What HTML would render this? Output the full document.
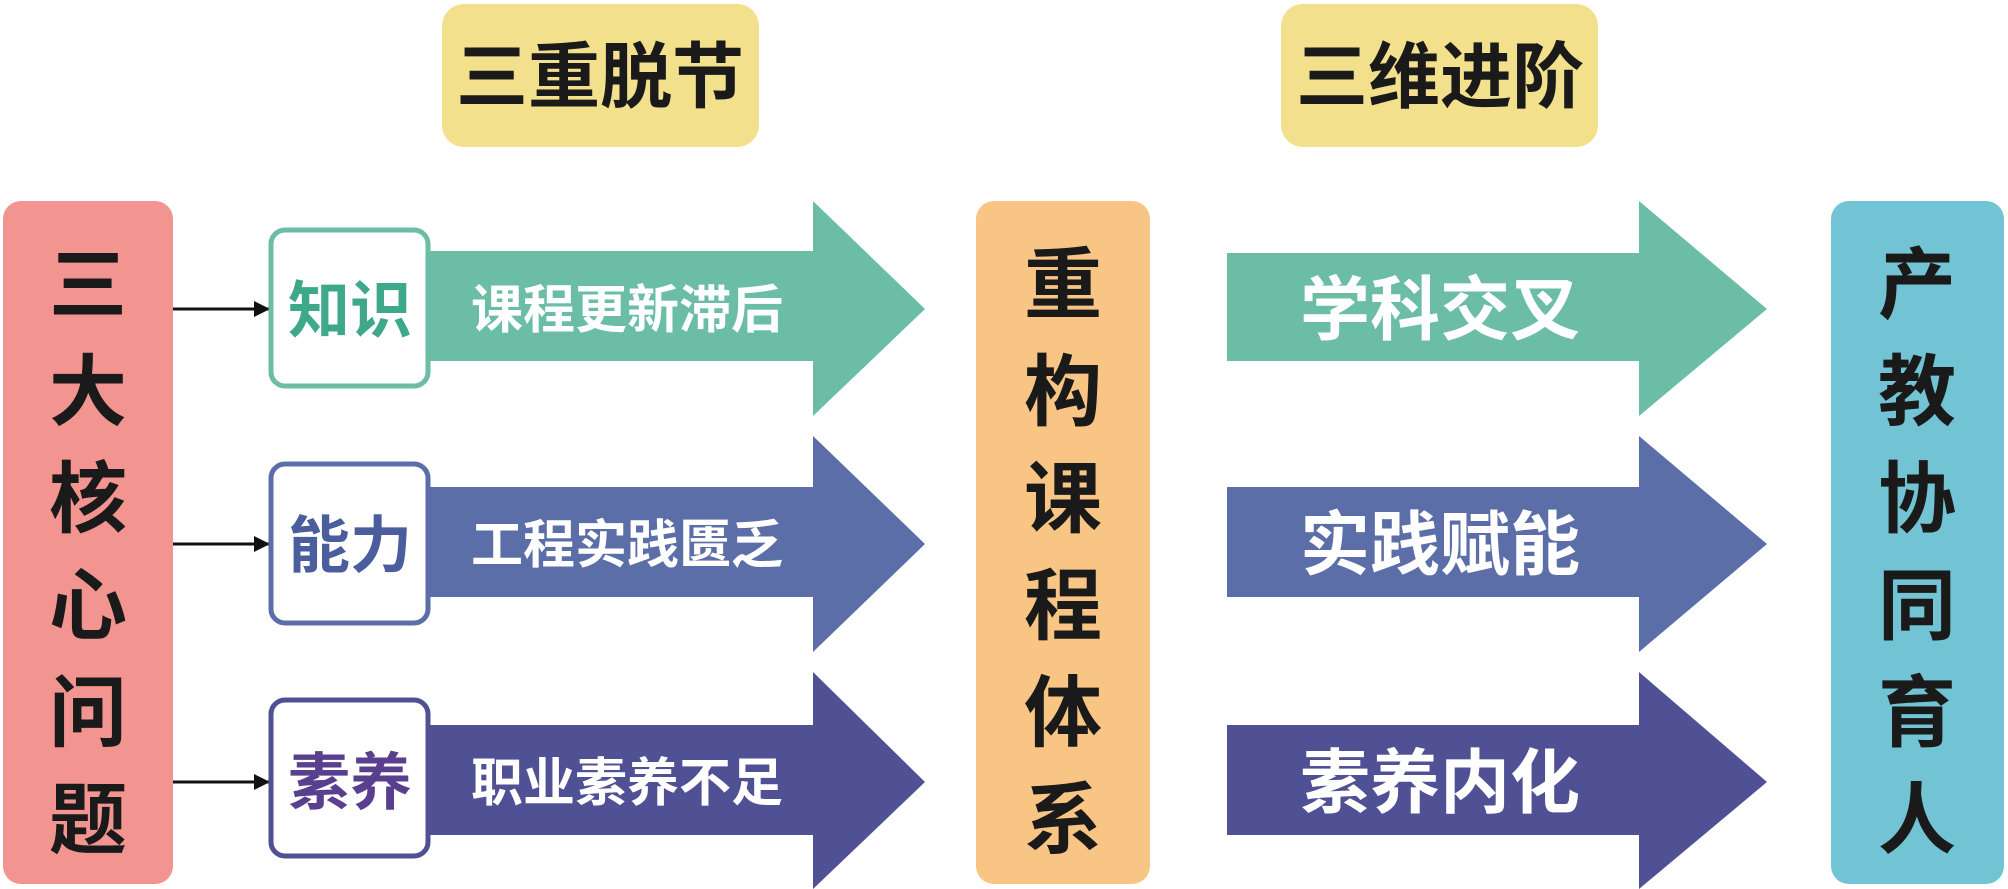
<!DOCTYPE html>
<html><head><meta charset="utf-8"><style>
html,body{margin:0;padding:0;background:#fff;}
svg{display:block;}
text{font-family:"Liberation Sans","Noto Sans CJK SC",sans-serif;font-weight:bold;}
</style></head><body>
<svg width="2008" height="889" viewBox="0 0 2008 889" xmlns="http://www.w3.org/2000/svg">
<defs>
<marker id="ah" markerWidth="16" markerHeight="16" refX="15" refY="8" orient="auto" markerUnits="userSpaceOnUse"><path d="M0,0 L16,8 L0,16 z" fill="#111"/></marker>
</defs>
<rect x="442" y="4" width="317" height="143" rx="22" fill="#f3e08c"/>
<text x="600" y="102" font-size="72" text-anchor="middle" fill="#1a1a1a">三重脱节</text>
<rect x="1281" y="4" width="317" height="143" rx="22" fill="#f3e08c"/>
<text x="1440" y="102" font-size="72" text-anchor="middle" fill="#1a1a1a">三维进阶</text>
<rect x="3" y="201" width="170" height="683" rx="18" fill="#f2948f"/>
<g font-size="78" text-anchor="middle" fill="#1a1a1a">
<text x="88" y="312">三</text><text x="88" y="419">大</text><text x="88" y="526">核</text>
<text x="88" y="633">心</text><text x="88" y="740">问</text><text x="88" y="847">题</text>
</g>
<rect x="976" y="201" width="174" height="683" rx="18" fill="#f8c584"/>
<g font-size="78" text-anchor="middle" fill="#1a1a1a">
<text x="1063" y="312">重</text><text x="1063" y="419">构</text><text x="1063" y="526">课</text>
<text x="1063" y="633">程</text><text x="1063" y="740">体</text><text x="1063" y="847">系</text>
</g>
<rect x="1831" y="201" width="173" height="683" rx="18" fill="#72c3d4"/>
<g font-size="78" text-anchor="middle" fill="#1a1a1a">
<text x="1917" y="312">产</text><text x="1917" y="419">教</text><text x="1917" y="526">协</text>
<text x="1917" y="633">同</text><text x="1917" y="740">育</text><text x="1917" y="847">人</text>
</g>
<g stroke="#111" stroke-width="3" marker-end="url(#ah)">
<line x1="173" y1="309" x2="269" y2="309"/>
<line x1="173" y1="544" x2="269" y2="544"/>
<line x1="173" y1="782" x2="269" y2="782"/>
</g>
<polygon points="429,251 813,251 813,201 925,309 813,416 813,361 429,361" fill="#6bbda5"/>
<polygon points="429,487 813,487 813,436 925,544 813,652 813,597 429,597" fill="#5b6ea8"/>
<polygon points="429,725 813,725 813,672 925,782 813,889 813,835 429,835" fill="#505094"/>
<rect x="271" y="230" width="157" height="156" rx="14" fill="#fff" stroke="#6bbda5" stroke-width="5"/>
<text x="350" y="332" font-size="62" text-anchor="middle" fill="#3da98a">知识</text>
<rect x="271" y="464" width="157" height="159" rx="14" fill="#fff" stroke="#5b6ea8" stroke-width="5"/>
<text x="350" y="567" font-size="62" text-anchor="middle" fill="#4a5d9c">能力</text>
<rect x="271" y="700" width="157" height="156" rx="14" fill="#fff" stroke="#505094" stroke-width="5"/>
<text x="350" y="804" font-size="62" text-anchor="middle" fill="#5a3f8f">素养</text>
<g font-size="52" text-anchor="middle" fill="#fff">
<text x="627" y="328">课程更新滞后</text>
<text x="627" y="563">工程实践匮乏</text>
<text x="627" y="801">职业素养不足</text>
</g>
<polygon points="1227,253 1639,253 1639,201 1767,309 1639,416 1639,361 1227,361" fill="#6bbda5"/>
<polygon points="1227,487 1639,487 1639,436 1767,544 1639,652 1639,597 1227,597" fill="#5b6ea8"/>
<polygon points="1227,725 1639,725 1639,672 1767,782 1639,889 1639,835 1227,835" fill="#505094"/>
<g font-size="70" text-anchor="middle" fill="#fff">
<text x="1440" y="334">学科交叉</text>
<text x="1440" y="569">实践赋能</text>
<text x="1440" y="807">素养内化</text>
</g>
</svg>
</body></html>
